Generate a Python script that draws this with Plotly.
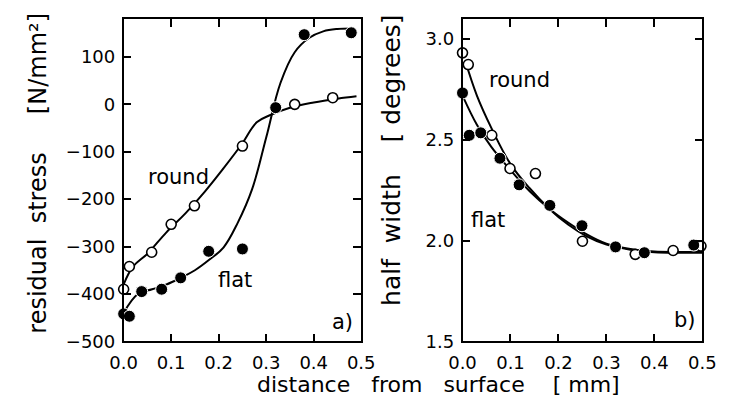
import plotly.graph_objects as go

# ---- a) residual stress vs depth ----
a_round_x = [0.0, 0.012, 0.059, 0.100, 0.149, 0.250, 0.360, 0.440]
a_round_y = [-390, -342, -312, -253, -214, -88, 0, 14]
a_flat_x = [0.0, 0.012, 0.038, 0.080, 0.120, 0.179, 0.250, 0.320, 0.380, 0.479]
a_flat_y = [-442, -447, -395, -390, -366, -310, -305, -7, 147, 151]

# fitted curves (knots, smoothed by spline)
a_round_fit_x = [0.0, 0.02, 0.05, 0.09, 0.13, 0.17, 0.21, 0.25, 0.28, 0.31, 0.35, 0.40, 0.45, 0.49]
a_round_fit_y = [-380, -342, -315, -270, -230, -185, -135, -82, -38, -22, -7, 4, 12, 17]
a_flat_fit_x = [0.0, 0.03, 0.06, 0.09, 0.12, 0.15, 0.18, 0.21, 0.24, 0.27, 0.30, 0.33, 0.36,
                0.39, 0.42, 0.45, 0.485]
a_flat_fit_y = [-440, -400, -390, -380, -366, -350, -328, -302, -250, -180, -70, 45, 110,
                140, 154, 159, 160]

# ---- b) half width vs depth ----
b_round_x = [0.0, 0.012, 0.061, 0.099, 0.152, 0.250, 0.360, 0.439, 0.497]
b_round_y = [2.932, 2.874, 2.523, 2.358, 2.333, 1.997, 1.932, 1.951, 1.973]
b_flat_x = [0.0, 0.014, 0.038, 0.078, 0.118, 0.182, 0.249, 0.319, 0.379, 0.482]
b_flat_y = [2.733, 2.523, 2.535, 2.409, 2.277, 2.175, 2.074, 1.969, 1.940, 1.978]

b_round_fit_x = [0.006, 0.03, 0.06, 0.10, 0.14, 0.18, 0.22, 0.26, 0.30, 0.35, 0.40, 0.45, 0.50]
b_round_fit_y = [2.89, 2.72, 2.56, 2.38, 2.26, 2.16, 2.08, 2.02, 1.98, 1.955, 1.943, 1.940, 1.940]
b_flat_fit_x = [0.0, 0.03, 0.06, 0.10, 0.14, 0.18, 0.22, 0.26, 0.30, 0.35, 0.40, 0.45, 0.50]
b_flat_fit_y = [2.72, 2.575, 2.465, 2.35, 2.245, 2.16, 2.09, 2.03, 1.985, 1.958, 1.946, 1.944, 1.944]

x_ticks = [0.0, 0.1, 0.2, 0.3, 0.4, 0.5]
a_y_ticks = [-500, -400, -300, -200, -100, 0, 100]
b_y_ticks = [1.5, 2.0, 2.5, 3.0]

W, H = 734, 406
FONT = "DejaVu Sans"


def px(x):
    return x / W


def py(y):
    return 1 - y / H


fig = go.Figure()

line_style = dict(color="black", width=2, shape="spline", smoothing=1.1)
open_marker = dict(symbol="circle", size=10, color="white", line=dict(color="black", width=1.6))
filled_marker = dict(symbol="circle", size=12, color="black", line=dict(color="white", width=1))

# panel a
fig.add_trace(go.Scatter(x=a_round_fit_x, y=a_round_fit_y, mode="lines", line=line_style,
                         xaxis="x", yaxis="y", hoverinfo="skip"))
fig.add_trace(go.Scatter(x=a_flat_fit_x, y=a_flat_fit_y, mode="lines", line=line_style,
                         xaxis="x", yaxis="y", hoverinfo="skip"))
fig.add_trace(go.Scatter(x=a_round_x, y=a_round_y, mode="markers", marker=open_marker,
                         xaxis="x", yaxis="y", cliponaxis=False))
fig.add_trace(go.Scatter(x=a_flat_x, y=a_flat_y, mode="markers", marker=filled_marker,
                         xaxis="x", yaxis="y", cliponaxis=False))

# panel b
fig.add_trace(go.Scatter(x=b_round_fit_x, y=b_round_fit_y, mode="lines", line=line_style,
                         xaxis="x2", yaxis="y2", hoverinfo="skip"))
fig.add_trace(go.Scatter(x=b_flat_fit_x, y=b_flat_fit_y, mode="lines", line=line_style,
                         xaxis="x2", yaxis="y2", hoverinfo="skip"))
fig.add_trace(go.Scatter(x=b_round_x, y=b_round_y, mode="markers", marker=open_marker,
                         xaxis="x2", yaxis="y2", cliponaxis=False))
fig.add_trace(go.Scatter(x=b_flat_x, y=b_flat_y, mode="markers", marker=filled_marker,
                         xaxis="x2", yaxis="y2", cliponaxis=False))

axis_common = dict(
    showline=True, linecolor="black", linewidth=1.6, mirror="ticks",
    ticks="inside", ticklen=8, tickwidth=1.5, tickcolor="black",
    showgrid=False, zeroline=False,
    tickfont=dict(family=FONT, size=18, color="black"),
    fixedrange=True,
)

y_dom = [py(350), py(19.5)]

fig.update_layout(
    width=W, height=H,
    margin=dict(l=0, r=0, t=0, b=0),
    paper_bgcolor="white", plot_bgcolor="white",
    showlegend=False,
    font=dict(family=FONT, color="black"),
    xaxis=dict(domain=[px(114), px(361)], range=[0, 0.5], tickvals=x_ticks, tickformat=".1f",
               anchor="y", ticklabelstandoff=4, **axis_common),
    yaxis=dict(domain=y_dom, range=[-500, 180], tickvals=a_y_ticks, anchor="x",
               ticklabelstandoff=3, **axis_common),
    xaxis2=dict(domain=[px(466.3), px(715.7)], range=[0, 0.5], tickvals=x_ticks, tickformat=".1f",
                anchor="y2", ticklabelstandoff=4, **axis_common),
    yaxis2=dict(domain=y_dom, range=[1.5, 3.1], tickvals=b_y_ticks, tickformat=".1f",
                anchor="x2", ticklabelstandoff=3, **axis_common),
)

NB = "\u00a0"
xtitle_font = dict(family=FONT, size=22, color="black")
ytitle_a_font = dict(family=FONT, size=24, color="black")
ytitle_b_font = dict(family=FONT, size=25, color="black")
label_font = dict(family=FONT, size=21, color="black")


def note(text, x, y, font, angle=0, xanchor="center", yanchor="middle", yshift=0, pad=1):
    fig.add_annotation(text=text, x=px(x), y=py(y), xref="paper", yref="paper",
                       showarrow=False, textangle=angle, font=font,
                       xanchor=xanchor, yanchor=yanchor, yshift=yshift,
                       borderpad=pad, borderwidth=pad)


note(f"distance{NB*3}from{NB*3}surface{NB*4}[{NB}mm]", 441, 406, xtitle_font,
     yanchor="bottom", yshift=-1, pad=0)
note(f"residual{NB*2}stress{NB*5}[N/mm²]", 25, 178, ytitle_a_font, angle=-90)
note(f"half{NB*2}width{NB*4}[{NB}degrees]", 393, 164, ytitle_b_font, angle=-90)

note("round", 171, 181, label_font)
note("flat", 230, 287, label_font)
note("a)", 342, 330, label_font)
note("round", 526, 82, label_font)
note("flat", 493, 226, label_font)
note("b)", 698, 328, label_font)

fig.write_html("out.html")
